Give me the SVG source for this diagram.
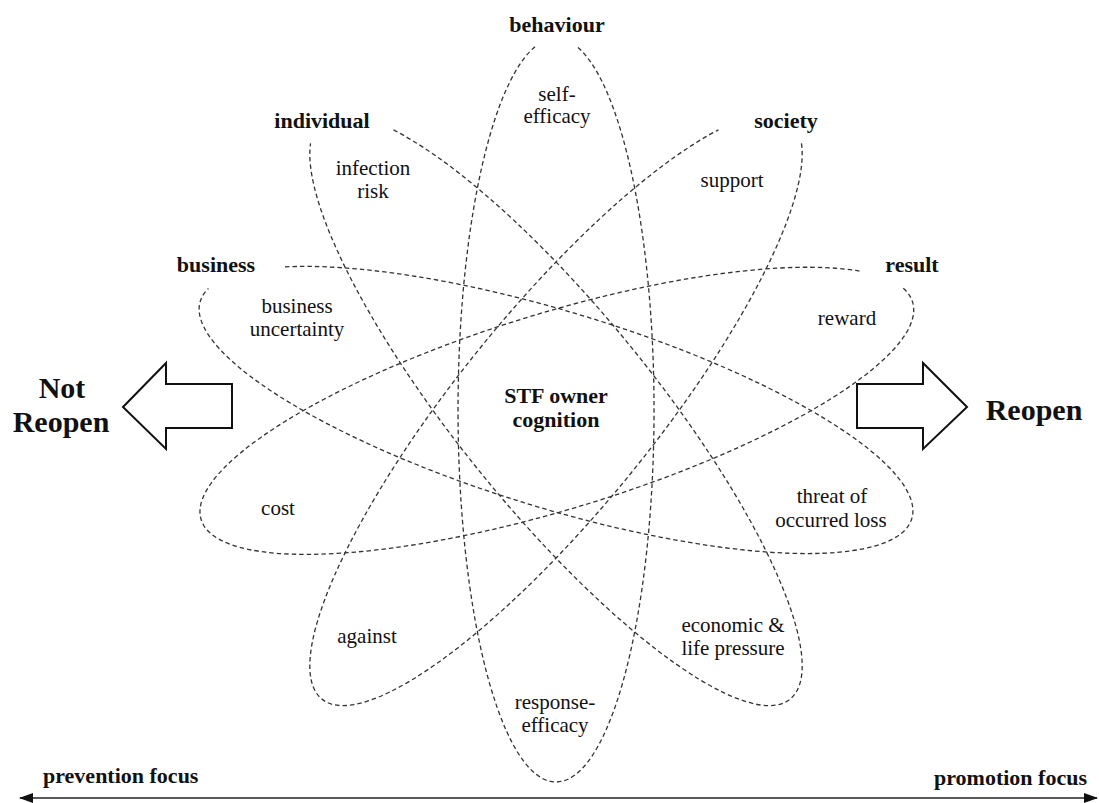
<svg xmlns="http://www.w3.org/2000/svg" width="1099" height="803" viewBox="0 0 1099 803">
<defs>
<style>
.ell{fill:none;stroke:#333;stroke-width:1.3;stroke-dasharray:4.5 3}
.lb{font-family:"Liberation Serif","Times New Roman",serif;font-size:21px;fill:#111;text-anchor:middle}
.bd{font-family:"Liberation Serif","Times New Roman",serif;font-size:22px;font-weight:bold;fill:#111;text-anchor:middle}
.big{font-family:"Liberation Serif","Times New Roman",serif;font-size:30px;font-weight:bold;fill:#111;text-anchor:middle}
.arr{fill:#fff;stroke:#111;stroke-width:2;stroke-linejoin:miter}
</style>
<marker id="ah" viewBox="0 0 14 10" refX="13" refY="5" markerWidth="14" markerHeight="10" markerUnits="userSpaceOnUse" orient="auto-start-reverse">
<path d="M0,0 L14,5 L0,10 Z" fill="#111"/>
</marker>
</defs>
<rect width="1099" height="803" fill="#fff"/>

<g id="connectors">
<g transform="translate(556,410)">
<path class="ell" d="M22,-362.5 A98 372 0 1 1 -21,-363.3"/>
<path class="ell" transform="rotate(-39)" d="M50,-319.9 A98 372 0 1 1 -23,-361.6"/>
<path class="ell" transform="rotate(39)" d="M23,-361.6 A98 372 0 1 1 -50,-319.9"/>
<path class="ell" transform="rotate(-73)" d="M57.6,-301 A98 372 0 1 1 14.5,-367.9"/>
<path class="ell" transform="rotate(73)" d="M-14.8,-367.7 A98 372 0 1 1 -44,-331"/>
</g>
<line x1="20" y1="798" x2="1097" y2="798" stroke="#222" stroke-width="1.6" marker-start="url(#ah)" marker-end="url(#ah)"/>
</g>

<g id="center">
<text class="bd" x="556" y="403">STF owner</text>
<text class="bd" x="556" y="427">cognition</text>
</g>

<g id="behaviour">
<text class="bd" x="557" y="32">behaviour</text>
<text class="lb" x="557" y="101">self-</text>
<text class="lb" x="557" y="123">efficacy</text>
<text class="lb" x="555" y="709">response-</text>
<text class="lb" x="555" y="732">efficacy</text>
</g>

<g id="individual">
<text class="bd" x="322" y="128">individual</text>
<text class="lb" x="373" y="175">infection</text>
<text class="lb" x="373" y="198">risk</text>
<text class="lb" x="733" y="632">economic &amp;</text>
<text class="lb" x="733" y="655">life pressure</text>
</g>

<g id="society">
<text class="bd" x="786" y="128">society</text>
<text class="lb" x="732" y="187">support</text>
<text class="lb" x="367" y="643">against</text>
</g>

<g id="business">
<text class="bd" x="216" y="272">business</text>
<text class="lb" x="297" y="313">business</text>
<text class="lb" x="297" y="336">uncertainty</text>
<text class="lb" x="832" y="503">threat of</text>
<text class="lb" x="831" y="527">occurred loss</text>
</g>

<g id="result">
<text class="bd" x="912" y="272">result</text>
<text class="lb" x="847" y="325">reward</text>
<text class="lb" x="278" y="515">cost</text>
</g>

<g id="not-reopen">
<polygon class="arr" points="123,407 166,363 166,384 232,384 232,428 166,428 166,449"/>
<text class="big" x="62" y="398">Not</text>
<text class="big" x="61" y="432">Reopen</text>
</g>

<g id="reopen">
<polygon class="arr" points="967,407 923,363 923,384 857,384 857,428 923,428 923,449"/>
<text class="big" x="1034" y="420">Reopen</text>
</g>

<g id="focus">
<text class="bd" x="43" y="783" style="text-anchor:start">prevention focus</text>
<text class="bd" x="1087" y="785" style="text-anchor:end">promotion focus</text>
</g>
</svg>
